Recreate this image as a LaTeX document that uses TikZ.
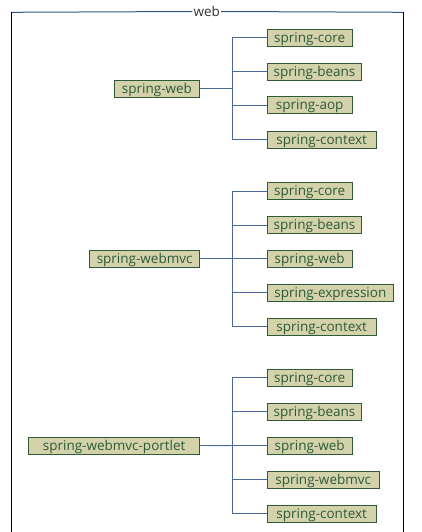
\documentclass[tikz,border=0pt]{standalone}
\usepackage{fontspec}
\setmainfont{Open Sans}
\definecolor{boxfill}{HTML}{D4D2AA}
\definecolor{boxdraw}{HTML}{2F5A3A}
\definecolor{boxtext}{HTML}{2C5A38}
\definecolor{link}{HTML}{4A6A9E}
\definecolor{frametop}{HTML}{2F558A}
\tikzset{
  pkg/.style={draw=boxdraw, fill=boxfill, text=boxtext, line width=1pt, inner sep=0pt,
    minimum height=17pt, text height=11pt, text depth=2pt, anchor=west,
    font=\fontsize{13.5}{14}\selectfont},
  link/.style={draw=link, line width=0.9pt},
}
\begin{document}
\begin{tikzpicture}[x=1pt,y=-1pt]
\useasboundingbox (0,0) rectangle (422,532);
% frame
\node[inner sep=1pt, text=black!80, font=\fontsize{13.5}{14}\selectfont] (title) at (206.7,11.5) {web};
\draw[frametop, line width=1pt] (11.7,12.3) -- (title.west);
\draw[frametop, line width=1pt] (title.east) -- (403.3,12.3);
\draw[black, line width=1.2pt] (11.7,12.3) -- (11.7,532);
\draw[black, line width=1.2pt] (403.3,12.3) -- (403.3,532);

% group 1
\node[pkg, minimum width=85pt] (r1) at (114,88.6) {spring-web};
\node[pkg, minimum width=85pt] (a1) at (266.7,37.7) {spring-core};
\node[pkg, minimum width=94.6pt] (a2) at (266.7,71.8) {spring-beans};
\node[pkg, minimum width=85pt] (a3) at (266.7,105.5) {spring-aop};
\node[pkg, minimum width=109pt] (a4) at (266.7,139.7) {spring-context};
\coordinate (t1) at (232,88.6);
\draw[link] (r1.east) -- (t1);
\foreach \c in {a1,a2,a3,a4} \draw[link] (\c.west) -| (t1);

% group 2
\node[pkg, minimum width=109.7pt] (r2) at (89.3,258.7) {spring-webmvc};
\node[pkg, minimum width=85pt] (b1) at (266.7,191.2) {spring-core};
\node[pkg, minimum width=94.6pt] (b2) at (266.7,225) {spring-beans};
\node[pkg, minimum width=85pt] (b3) at (266.7,258.7) {spring-web};
\node[pkg, minimum width=126.3pt] (b4) at (266.7,292.5) {spring-expression};
\node[pkg, minimum width=109pt] (b5) at (266.7,326.7) {spring-context};
\coordinate (t2) at (232,258.7);
\draw[link] (r2.east) -- (t2);
\foreach \c in {b1,b2,b3,b4,b5} \draw[link] (\c.west) -| (t2);

% group 3
\node[pkg, minimum width=170.7pt] (r3) at (28.3,445.5) {spring-webmvc-portlet};
\node[pkg, minimum width=85pt] (c1) at (266.7,377.7) {spring-core};
\node[pkg, minimum width=94.6pt] (c2) at (266.7,411.7) {spring-beans};
\node[pkg, minimum width=85pt] (c3) at (266.7,445.7) {spring-web};
\node[pkg, minimum width=112pt] (c4) at (266.7,479.8) {spring-webmvc};
\node[pkg, minimum width=109pt] (c5) at (266.7,513.7) {spring-context};
\coordinate (t3) at (232,445.7);
\draw[link] (r3.east) -- (t3);
\foreach \c in {c1,c2,c3,c4,c5} \draw[link] (\c.west) -| (t3);
\end{tikzpicture}
\end{document}
